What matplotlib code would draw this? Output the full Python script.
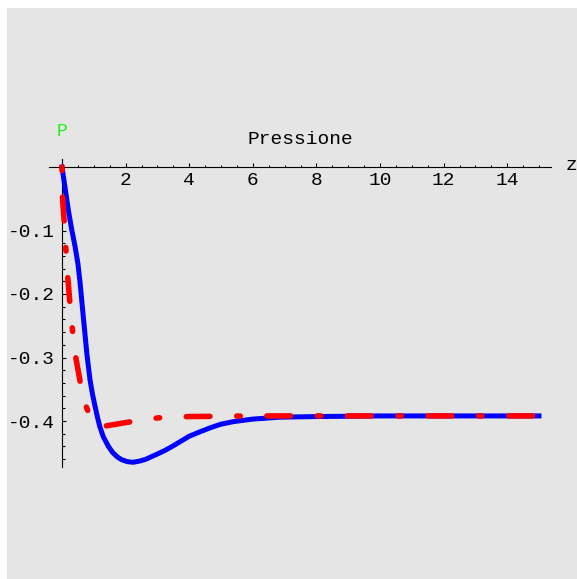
import matplotlib
matplotlib.use("Agg")
import matplotlib.pyplot as plt
from matplotlib.patches import Rectangle
from matplotlib.ticker import FixedLocator

plt.rcParams['axes.unicode_minus'] = False
FONT = 'Liberation Mono'

# ---- data ----
blue_x = [0.0, 0.1, 0.2, 0.3, 0.41, 0.5, 0.57, 0.67, 0.78, 0.88, 0.96, 1.04,
          1.12, 1.19, 1.3, 1.46, 1.6, 1.75, 1.88, 2.05, 2.24, 2.45, 2.65,
          2.82, 3.0, 3.25, 3.5, 4.0, 4.34, 4.7, 5.0, 5.39, 6.0, 6.86, 8.0,
          10.0, 12.0, 15.0]
blue_y = [0.0, -0.034, -0.068, -0.097, -0.125, -0.152, -0.183, -0.236,
          -0.293, -0.335, -0.358, -0.377, -0.395, -0.409, -0.425, -0.440,
          -0.450, -0.457, -0.461, -0.464, -0.465, -0.463, -0.460, -0.456,
          -0.452, -0.446, -0.439, -0.424, -0.417, -0.410, -0.405, -0.401,
          -0.397, -0.394, -0.393, -0.392, -0.392, -0.392]

red_x = [0.0, 0.003, 0.01, 0.04, 0.07, 0.12, 0.18, 0.25, 0.33, 0.43, 0.57,
         0.68, 0.78, 0.9, 1.0, 1.1, 1.2, 1.35, 1.7, 2.19, 2.6, 3.03, 3.5,
         4.0, 5.0, 6.0, 8.0, 10.0, 15.0]
red_y = [0.0, -0.02, -0.044, -0.066, -0.086, -0.128, -0.173, -0.215, -0.257,
         -0.299, -0.338, -0.362, -0.380, -0.393, -0.400, -0.405, -0.408,
         -0.408, -0.405, -0.401, -0.398, -0.395, -0.394, -0.393, -0.3925,
         -0.392, -0.392, -0.392, -0.392]

x_major = [2, 4, 6, 8, 10, 12, 14]
x_labels = ['2', '4', '6', '8', '10', '12', '14']
x_minor = [0.5, 1.0, 1.5, 2.5, 3.0, 3.5, 4.5, 5.0, 5.5, 6.5, 7.0, 7.5,
           8.5, 9.0, 9.5, 10.5, 11.0, 11.5, 12.5, 13.0, 13.5, 14.5, 15.0]
y_major = [-0.1, -0.2, -0.3, -0.4]
y_labels = ['-0.1', '-0.2', '-0.3', '-0.4']
y_minor = [-0.02, -0.04, -0.06, -0.08, -0.12, -0.14, -0.16, -0.18,
           -0.22, -0.24, -0.26, -0.28, -0.32, -0.34, -0.36, -0.38,
           -0.42, -0.44, -0.46]

W, H = 577, 579
fig = plt.figure(figsize=(W / 100, H / 100), dpi=100)
fig.patch.set_facecolor('white')
fig.patches.append(Rectangle((7 / W, 0), 1 - 7 / W, 1 - 8 / H,
                             transform=fig.transFigure, facecolor='#e5e5e5',
                             edgecolor='none', zorder=-10))

# axes: x=0 at px 62, 31.8 px/unit ; y=0 at px 167, 635 px/unit
x0p, sx = 62.0, 31.8
y0p, sy = 167.0, 635.0
xl = (-0.5, 15.5)
yl = (-0.48, 0.02)
left = (x0p + sx * xl[0]) / W
right = (x0p + sx * xl[1]) / W
top = 1 - (y0p - sy * yl[1]) / H
bottom = 1 - (y0p - sy * yl[0]) / H
ax = fig.add_axes([left, bottom, right - left, top - bottom])
ax.set_xlim(*xl)
ax.set_ylim(*yl)
ax.patch.set_alpha(0)

for s in ['top', 'right']:
    ax.spines[s].set_visible(False)
ax.spines['left'].set_position(('data', 0))
ax.spines['bottom'].set_position(('data', 0))
ax.spines['left'].set_bounds(-0.473, 0.012)
ax.spines['bottom'].set_bounds(-0.4, 15.37)
for s in ['left', 'bottom']:
    ax.spines[s].set_linewidth(0.8)
    ax.spines[s].set_color('black')

ax.set_xticks(x_major)
ax.set_xticklabels(x_labels, fontfamily=FONT, fontsize=14)
ax.xaxis.set_minor_locator(FixedLocator(x_minor))
ax.set_yticks(y_major)
ax.set_yticklabels(y_labels, fontfamily=FONT, fontsize=14)
ax.yaxis.set_minor_locator(FixedLocator(y_minor))
ax.tick_params(axis='x', which='major', direction='in', length=3.0, width=0.8, pad=3.5)
ax.tick_params(axis='x', which='minor', direction='in', length=1.8, width=0.8)
ax.tick_params(axis='y', which='major', direction='in', length=3.0, width=0.8, pad=5)
ax.tick_params(axis='y', which='minor', direction='in', length=1.8, width=0.8)

ax.plot(blue_x, blue_y, color='#0000ff', lw=3.6, solid_joinstyle='round',
        clip_on=False, zorder=3)
red, = ax.plot(red_x, red_y, color='#ff0000', lw=4.0, clip_on=False, zorder=4,
               dash_capstyle='round', solid_joinstyle='round')
red.set_dashes((0.64, 4.8, 4.27, 4.8))

fig.text(300 / W, 1 - 140 / H, 'Pressione', ha='center', va='center',
         fontfamily=FONT, fontsize=14)
fig.text(62 / W, 1 - 132 / H, 'P', ha='center', va='center',
         fontfamily=FONT, fontsize=13, color='#22ee22')
fig.text(566 / W, 1 - 165 / H, 'z', ha='left', va='center',
         fontfamily=FONT, fontsize=14)

fig.savefig('out.png', dpi=100)
